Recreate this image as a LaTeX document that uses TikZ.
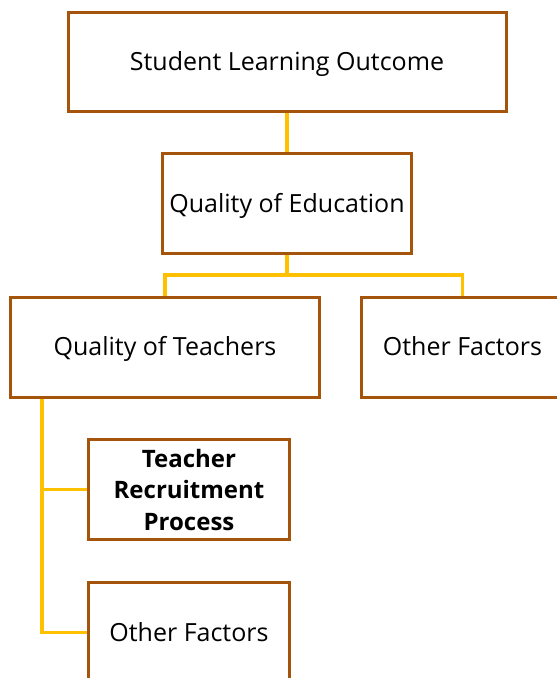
\documentclass[tikz,border=0pt]{standalone}
\usepackage{fontspec}
\setmainfont{Open Sans}
\definecolor{boxbrown}{HTML}{A5540C}
\definecolor{linkgold}{HTML}{FFC000}
\begin{document}
\begin{tikzpicture}[x=1pt,y=-1pt,
  card/.style={draw=boxbrown, line width=3pt, fill=white, rectangle, inner sep=0pt, align=center},
  plain/.style={card, text height=17.85pt, text depth=0pt, font=\fontsize{25}{32}\selectfont},
  strong/.style={card, font=\fontsize{24}{31.5}\selectfont\bfseries},
  link/.style={draw=linkgold, line width=3.5pt}]
\useasboundingbox (0,0) rectangle (557,678);
\node[plain, minimum width=438pt, minimum height=99pt] (slo) at (287,62) {Student Learning Outcome};
\node[plain, minimum width=249pt, minimum height=100pt] (qoe) at (287,203.5) {Quality of Education};
\node[plain, minimum width=309pt, minimum height=100pt] (qot) at (165,347) {Quality of Teachers};
\node[plain, minimum width=202pt, minimum height=100pt] (of1) at (462.5,347) {Other Factors};
\node[strong, minimum width=201pt, minimum height=100pt] (trp) at (189,489.5) {Teacher\\Recruitment\\Process};
\node[plain, minimum width=201pt, minimum height=100pt] (of2) at (189,632.5) {Other Factors};
\coordinate (bus) at (287,275);
\coordinate (vtop) at (42,0);
\draw[link] (slo.south) -- (qoe.north);
\draw[link] (qoe.south) -- (bus);
\draw[link] (qot.north) |- (bus) -| (of1.north);
\draw[link] (qot.south -| vtop) |- (of2.west);
\draw[link] (qot.south -| vtop) |- (trp.west);
\end{tikzpicture}
\end{document}
